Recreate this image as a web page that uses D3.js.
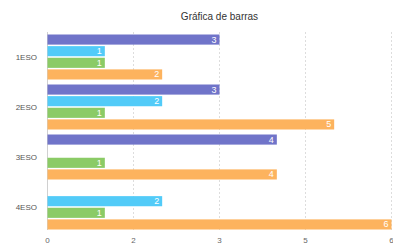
<!DOCTYPE html>
<html>
<head>
<meta charset="utf-8">
<script src="https://cdn.jsdelivr.net/npm/d3@7"></script>
<style>
	body { margin: 0; background: #fff; }
	svg { display: block; font-family: "Liberation Sans", Arial, sans-serif; }
</style>
</head>
<body>
<svg id="chart"></svg>
<script>

// DATA ======================================================================= //

var categories = ["1ESO", "2ESO", "3ESO", "4ESO"],
	seriesNames = ["A", "B", "C", "D"],
	seriesA = [3, 3, 4, 0],
	seriesB = [1, 2, 0, 2],
	seriesC = [1, 1, 1, 1],
	seriesD = [2, 5, 4, 6],
	tickValues = [0, 1.5, 3, 4.5, 6],
	tickLabels = ["0", "2", "3", "5", "6"];

var seriesCols = ["#7074c9", "#52cbf8", "#8bcb66", "#fdb35e"];

// SETUP ====================================================================== //

var width = 393,
	height = 244,
	m = [32, 1.5, 12, 47.5]; // top right bottom left

var svg = d3.select("#chart")
	.attr("width", width)
	.attr("height", height);

var allSeries = [seriesA, seriesB, seriesC, seriesD];

var rows = [];
categories.forEach(function(c, i) {
	seriesNames.forEach(function(s, j) {
		rows.push({cat: c, series: s, idx: j, value: allSeries[j][i]});
	});
});

var xScale = d3.scaleLinear()
	.domain([0, 6])
	.range([m[3], width - m[1]]);

var yScale = d3.scaleBand()
	.domain(categories)
	.range([m[0], height - m[2]])
	.paddingInner(.1)
	.paddingOuter(.05);

var yInner = d3.scaleBand()
	.domain(seriesNames)
	.range([0, yScale.bandwidth()])
	.paddingInner(.13);

// DRAW ======================================================================= //

svg.append("text")
	.attr("x", (xScale.range()[0] + xScale.range()[1]) / 2)
	.attr("y", 16)
	.attr("text-anchor", "middle")
	.attr("dominant-baseline", "central")
	.attr("font-size", 10)
	.attr("fill", "#333")
	.text("Gráfica de barras");

// grid
svg.append("g")
	.selectAll("line")
	.data(tickValues.slice(1))
	.enter()
	.append("line")
	.attr("x1", d => xScale(d))
	.attr("x2", d => xScale(d))
	.attr("y1", m[0])
	.attr("y2", height - m[2] - 2)
	.attr("stroke", "#d4d4d4")
	.attr("stroke-width", 0.8)
	.attr("stroke-dasharray", "2,2");

svg.append("line")
	.attr("x1", xScale(0))
	.attr("x2", xScale(0))
	.attr("y1", m[0])
	.attr("y2", height - m[2] - 2)
	.attr("stroke", "#d0d0d0")
	.attr("stroke-width", 1);

// x tick labels
svg.append("g")
	.selectAll("text")
	.data(tickValues)
	.enter()
	.append("text")
	.attr("x", d => xScale(d))
	.attr("y", 240)
	.attr("text-anchor", "middle")
	.attr("dominant-baseline", "central")
	.attr("font-size", 8)
	.attr("fill", "#666")
	.text((d, i) => tickLabels[i]);

// category labels
svg.append("g")
	.selectAll("text")
	.data(categories)
	.enter()
	.append("text")
	.attr("x", 37)
	.attr("y", d => yScale(d) + yScale.bandwidth() / 2)
	.attr("text-anchor", "end")
	.attr("dominant-baseline", "central")
	.attr("font-size", 8)
	.attr("fill", "#555")
	.text(d => d);

// bars
var bars = rows.filter(d => d.value > 0);

svg.append("g")
	.selectAll("rect")
	.data(bars)
	.enter()
	.append("rect")
	.attr("x", xScale(0))
	.attr("y", d => yScale(d.cat) + yInner(d.series))
	.attr("width", d => xScale(d.value) - xScale(0))
	.attr("height", yInner.bandwidth())
	.attr("fill", d => seriesCols[d.idx]);

svg.append("g")
	.selectAll("text")
	.data(bars)
	.enter()
	.append("text")
	.attr("x", d => xScale(d.value) - 3)
	.attr("y", d => yScale(d.cat) + yInner(d.series) + yInner.bandwidth() / 2)
	.attr("text-anchor", "end")
	.attr("dominant-baseline", "central")
	.attr("font-size", 9)
	.attr("fill", "#fff")
	.text(d => d.value);

</script>
</body>
</html>
